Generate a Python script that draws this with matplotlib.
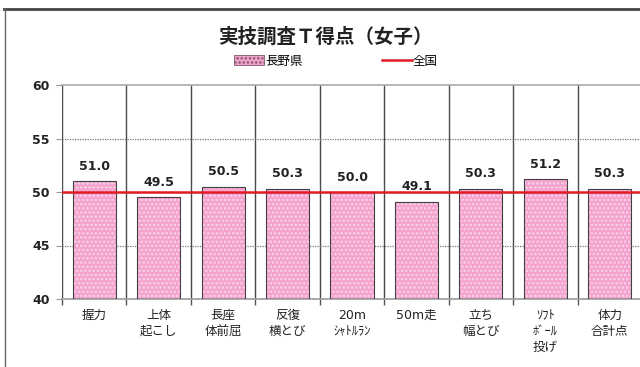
import matplotlib.pyplot as plt
from matplotlib.lines import Line2D
from matplotlib.patches import Patch

plt.rcParams['font.family'] = ['DejaVu Sans', 'Noto Sans CJK JP']
plt.rcParams['hatch.linewidth'] = 1.2

# T-scores by test item (Nagano, girls) and the national mean
items = ['握力', '上体\n起こし', '長座\n体前屈', '反復\n横とび', '20m\nｼｬﾄﾙﾗﾝ',
         '50m走', '立ち\n幅とび', 'ｿﾌﾄ\nﾎﾞｰﾙ\n投げ', '体力\n合計点']
nagano = [51.0, 49.5, 50.5, 50.3, 50.0, 49.1, 50.3, 51.2, 50.3]
national = 50
y_ticks = [40, 45, 50, 55, 60]

fig = plt.figure(figsize=(6.4, 3.67), dpi=100)
ax = fig.add_axes([62 / 640, 1 - 299 / 367, 580 / 640, 214 / 367])

pos = list(range(len(items)))
pink = '#f4a2cd'
# dotted fill, then the outline on top
ax.bar(pos, [v - 40 for v in nagano], bottom=40, width=0.67, color=pink,
       hatch='....', edgecolor='#fbd3ea', linewidth=0, zorder=2)
ax.bar(pos, [v - 40 for v in nagano], bottom=40, width=0.67, fill=False,
       edgecolor='#404040', linewidth=0.8, zorder=3)

ax.axhline(national, color='#e01b24', lw=1.8, zorder=4)

for x, v in zip(pos, nagano):
    ax.text(x, v + 1.4, f'{v:.1f}', ha='center', va='center',
            fontsize=9, fontweight='bold', color='#222222')

ax.set_xlim(-0.5, len(items) - 0.5)
ax.set_ylim(40, 60)

# category separators as major ticks, names as minor ticks
bounds = [i - 0.5 for i in range(len(items) + 1)]
ax.set_xticks(bounds)
ax.set_xticklabels([])
ax.set_xticks(pos, minor=True)
ax.set_xticklabels(items, minor=True, fontsize=9, linespacing=1.3,
                   family=['DejaVu Sans', 'Noto Sans CJK JP'])
ax.tick_params(axis='x', which='major', length=4, color='#555555', width=1)
ax.tick_params(axis='x', which='minor', length=0, pad=7, colors='#222222')
for b in bounds:
    ax.axvline(b, color='#4a4a4a', lw=1, zorder=1)

ax.set_yticks(y_ticks)
ax.set_yticklabels([str(t) for t in y_ticks], fontsize=9, fontweight='bold')
ax.tick_params(axis='y', length=4, color='#999999', pad=5, labelcolor='#222222')
for t in [45, 55]:
    ax.axhline(t, color='#777777', lw=0.9, ls=(0, (1, 1)), zorder=1)

for s in ['left', 'right']:
    ax.spines[s].set_visible(False)
ax.spines['top'].set_color('#aaaaaa')
ax.spines['bottom'].set_color('#999999')
ax.spines['top'].set_linewidth(1.2)
ax.spines['bottom'].set_linewidth(1.2)

fig.text(325 / 640, 1 - 37 / 367, '実技調査Ｔ得点（女子）', ha='center', va='center',
         fontsize=14, fontweight='bold', family=['Noto Sans CJK JP'], color='#222222')

handles = [Patch(facecolor=pink, edgecolor='#7a5a6a', lw=0.6, hatch='....'),
           Line2D([], [], color='#e01b24', lw=1.8)]
leg = fig.legend(handles, ['長野県', '全国'], loc='center', ncol=2,
                 bbox_to_anchor=(336 / 640, 1 - 61 / 367), frameon=False,
                 prop={'family': 'Noto Sans CJK JP', 'size': 9},
                 handlelength=2.4, handleheight=0.8, handletextpad=0.1,
                 columnspacing=6.3)

# outer chart frame
fig.add_artist(Line2D([4 / 640, 1.0], [1 - 9 / 367] * 2, color='#444444', lw=2,
                      transform=fig.transFigure))
fig.add_artist(Line2D([4.5 / 640] * 2, [0, 1 - 9 / 367], color='#666666', lw=1,
                      transform=fig.transFigure))

fig.savefig('out.png', dpi=100)
